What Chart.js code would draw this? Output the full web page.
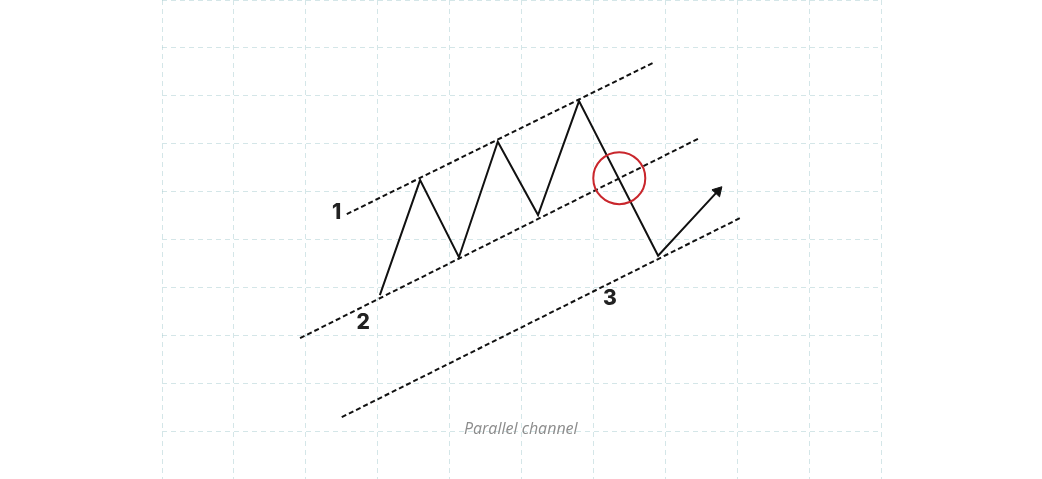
<!DOCTYPE html>
<html>
<head>
<meta charset="utf-8">
<title>Parallel channel</title>
<script src="https://cdn.jsdelivr.net/npm/chart.js@4.4.1/dist/chart.umd.min.js"></script>
<style>
  html, body { margin: 0; padding: 0; background: #fff; }
  .wrap { width: 1042px; height: 479px; }
</style>
</head>
<body>
<div class="wrap"><canvas id="channelChart" width="1042" height="479"></canvas></div>
<script>
'use strict';

// price path (zigzag + breakout arrow)
var pathX = [3.03, 3.59, 4.13, 4.67, 5.23, 5.80, 6.90, 7.73];
var pathY = [3.84, 6.24, 4.63, 7.04, 5.51, 7.89, 4.66, 6.01];

// channel lines: upper, middle, lower
var channelStartX = [2.57, 1.92, 2.50];
var channelStartY = [5.53, 2.94, 1.29];
var channelEndX = [6.86, 7.48, 8.07];
var channelEndY = [8.71, 7.12, 5.47];

// break point (red circle)
var breakX = [6.36];
var breakY = [6.28];

// numbered labels
var labelText = ['1', '2', '3'];
var labelX = [2.43, 2.80, 6.23];
var labelY = [5.57, 3.26, 3.76];

var captionText = 'Parallel channel';
var captionX = 4.99;
var captionY = 1.04;

// grid ticks
var xTicks = [0, 1, 2, 3, 4, 5, 6, 7, 8, 9, 10];
var yTicks = [0, 1, 2, 3, 4, 5, 6, 7, 8, 9, 10];

function toPoints(xs, ys) {
  return xs.map(function(x, i) { return { x: x, y: ys[i] }; });
}

var datasets = [];

// zigzag
var last = pathX.length - 1;
datasets.push({
  type: 'line',
  label: 'path',
  data: toPoints(pathX, pathY),
  borderColor: '#111',
  borderWidth: 2,
  tension: 0,
  pointStyle: 'triangle',
  pointRadius: pathX.map(function(v, i) { return i === last ? 6 : 0; }),
  pointRotation: 43,
  pointBackgroundColor: '#111',
  pointBorderColor: '#111',
  pointBorderWidth: 1,
  order: 2
});

// dashed channel lines
channelStartX.forEach(function(x, i) {
  datasets.push({
    type: 'line',
    label: 'channel' + i,
    data: toPoints([channelStartX[i], channelEndX[i]], [channelStartY[i], channelEndY[i]]),
    borderColor: '#111',
    borderWidth: 2,
    borderDash: [5, 3],
    pointRadius: 0,
    order: 3
  });
});

// red circle
datasets.push({
  type: 'scatter',
  label: 'break',
  data: toPoints(breakX, breakY),
  pointRadius: 26,
  pointBorderWidth: 2,
  pointBorderColor: '#c9262c',
  pointBackgroundColor: 'rgba(0,0,0,0)',
  order: 1
});

//テキストの描画
var textPlugin = {
  id: 'textPlugin',
  afterDatasetsDraw: function(chart) {
    var c = chart.ctx;
    var xs = chart.scales.x, ys = chart.scales.y;
    c.save();
    c.textAlign = 'center';
    c.textBaseline = 'middle';
    c.fillStyle = '#222';
    c.font = '800 21px Inter';
    labelText.forEach(function(t, i) {
      c.fillText(t, xs.getPixelForValue(labelX[i]), ys.getPixelForValue(labelY[i]));
    });
    c.fillStyle = '#8c8c8c';
    c.font = 'italic 16px "Open Sans"';
    c.fillText(captionText, xs.getPixelForValue(captionX), ys.getPixelForValue(captionY));
    c.restore();
  }
};

var gridStyle = {
  color: 'rgba(170, 205, 210, 0.5)',
  lineWidth: 1,
  drawTicks: false
};

var ctx = document.getElementById('channelChart');
var myChart = new Chart(ctx, {
  type: 'scatter',
  data: { datasets: datasets },
  options: {
    responsive: false,
    animation: false,
    layout: { autoPadding: false, padding: { left: 162, right: 161, top: 0, bottom: 0 } },
    plugins: {
      legend: { display: false },
      tooltip: { enabled: false }
    },
    scales: {
      x: {
        type: 'linear',
        min: xTicks[0],
        max: xTicks[xTicks.length - 1],
        afterBuildTicks: function(s) { s.ticks = xTicks.map(function(v) { return { value: v }; }); },
        grid: gridStyle,
        border: { display: false, dash: [5, 4] },
        ticks: { display: false }
      },
      y: {
        type: 'linear',
        min: yTicks[0],
        max: yTicks[yTicks.length - 1],
        afterBuildTicks: function(s) { s.ticks = yTicks.map(function(v) { return { value: v }; }); },
        grid: gridStyle,
        border: { display: false, dash: [5, 4] },
        ticks: { display: false }
      }
    }
  },
  plugins: [textPlugin]
});
</script>
</body>
</html>
